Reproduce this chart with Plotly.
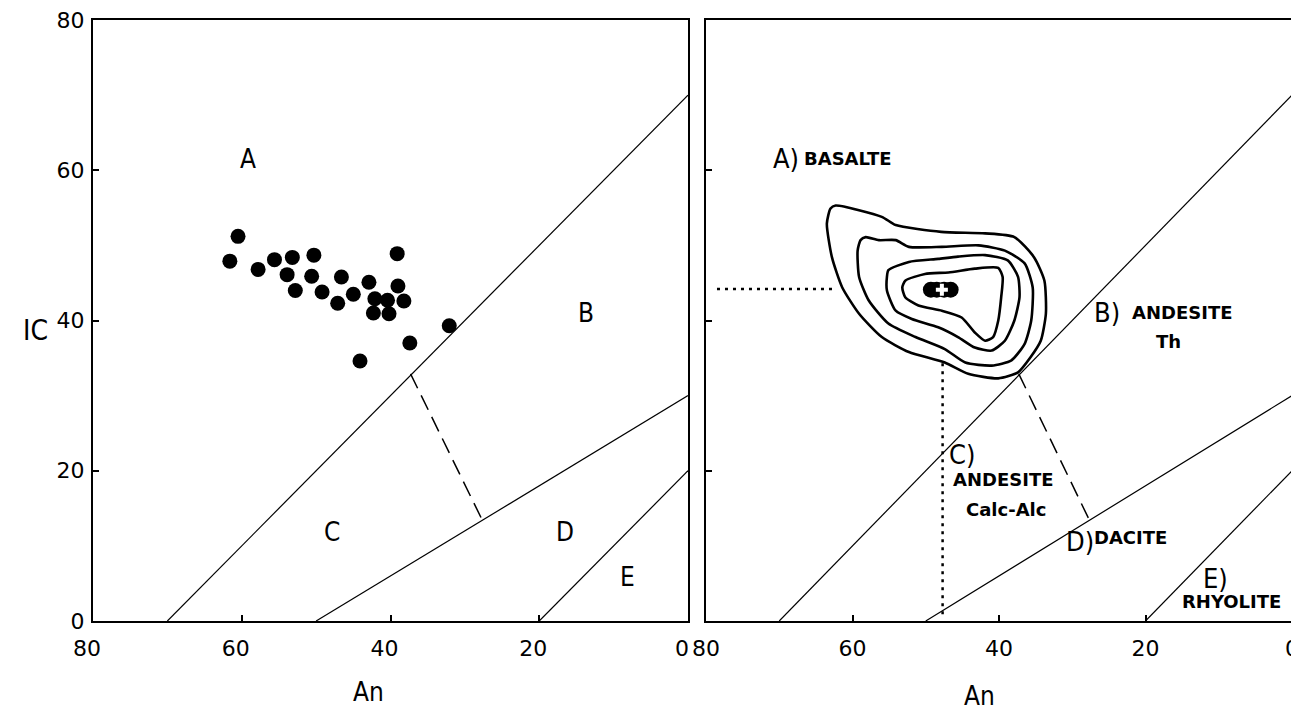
import plotly.graph_objects as go

# ---------------- data ----------------
# Left panel: sample points (An, IC)
pts_an = [60.5, 61.6, 57.8, 55.6, 53.2, 50.3, 53.9, 50.6, 52.8, 49.2, 46.6, 47.1,
          45.0, 42.9, 42.1, 42.3, 40.4, 40.2, 39.1, 39.0, 38.2, 44.1, 37.4, 32.1]
pts_ic = [51.2, 47.9, 46.8, 48.1, 48.4, 48.7, 46.1, 45.9, 44.0, 43.8, 45.8, 42.3,
          43.5, 45.1, 42.9, 41.0, 42.7, 40.9, 48.9, 44.6, 42.6, 34.6, 37.0, 39.3]

# Field boundaries (An, IC end points)
b1_an, b1_ic = [70, 0], [0, 70]
b2_an, b2_ic = [50, 0], [0, 30]
b3_an, b3_ic = [20, 0], [0, 20]
dash_an, dash_ic = [37.3, 27.6], [32.9, 13.3]

# Right panel: density contours (An, IC)
c1_an = [62.3, 56.0, 54.1, 47.9, 41.9, 37.9, 35.2, 33.8, 33.6, 34.3, 35.7, 37.4, 40.1,
         44.2, 47.4, 52.3, 56.0, 59.1, 61.4, 62.8, 63.5, 63.0, 62.3]
c1_ic = [55.3, 53.8, 52.7, 51.8, 51.6, 51.1, 48.4, 45.3, 40.9, 37.3, 35.1, 33.1, 32.3,
         32.9, 34.4, 35.8, 37.8, 40.9, 44.4, 48.4, 52.9, 54.9, 55.3]
c2_an = [58.2, 56.4, 54.1, 52.3, 47.8, 42.8, 39.2, 36.5, 35.4, 35.6, 36.5, 38.3, 41.0,
         44.6, 47.4, 51.4, 55.1, 57.8, 59.1, 59.3, 58.9, 58.2]
c2_ic = [51.1, 50.7, 50.7, 49.8, 49.8, 50.0, 49.3, 47.6, 44.4, 40.0, 36.9, 34.7, 34.0,
         34.4, 36.2, 37.8, 39.6, 42.7, 45.8, 49.3, 50.7, 51.1]
c3_an = [55.1, 52.3, 48.3, 45.6, 41.9, 38.8, 37.4, 37.2, 37.9, 39.2, 41.0, 43.3, 45.6,
         48.3, 51.9, 54.1, 55.3, 55.3, 55.1]
c3_ic = [46.7, 47.8, 48.2, 48.5, 48.7, 48.0, 45.8, 43.1, 40.0, 37.3, 36.0, 36.4, 37.8,
         39.1, 40.2, 41.3, 44.0, 45.8, 46.7]
c4_an = [52.8, 50.1, 46.9, 43.3, 40.1, 39.5, 39.7, 40.1, 40.8, 41.9, 43.3, 45.1, 47.8,
         51.0, 52.8, 53.2, 52.8]
c4_ic = [45.3, 46.2, 46.4, 46.9, 47.0, 45.8, 43.1, 40.0, 37.8, 37.3, 38.4, 40.4, 41.3,
         42.0, 43.1, 44.4, 45.3]
core_an = [49.3, 48.5, 47.5, 46.6]
core_ic = [44.1, 44.1, 44.1, 44.1]
mode_an, mode_ic = [47.8], [44.1]
hdot_an, hdot_ic = [78.5, 62.2], [44.2, 44.2]
vdot_an, vdot_ic = [47.7, 47.7], [34.3, 0.3]

# Labels
left_labels = ["A", "B", "C", "D", "E"]
left_lab_an = [59.2, 13.7, 47.9, 16.6, 8.1]
left_lab_ic = [61.5, 41.0, 11.9, 11.9, 5.9]
right_letters = ["A)", "B)", "C)", "D)", "E)"]
right_let_an = [69.1, 25.3, 45.1, 28.9, 10.5]
right_let_ic = [61.6, 41.0, 22.1, 10.6, 5.7]
right_names = ["BASALTE", "ANDESITE", "Th", "ANDESITE", "Calc-Alc", "DACITE", "RHYOLITE"]
right_name_an = [60.6, 15.0, 16.9, 39.5, 39.0, 22.1, 8.2]
right_name_ic = [61.5, 41.0, 37.2, 18.8, 14.8, 11.1, 2.6]

tick_vals = [80, 60, 40, 20, 0]
tick_text = ["80", "60", "40", "20", "0"]

# ---------------- figure ----------------
NARROW = "Liberation Sans Narrow, DejaVu Sans Condensed, sans-serif"
BOLD = "DejaVu Sans, sans-serif"
OFF = 8                      # default page margin of the html body
W, H = 1299 - OFF, 724 - OFF
fig = go.Figure()

def line(xs, ys, ax, width=1.2, dash="solid", color="black"):
    fig.add_trace(go.Scatter(x=xs, y=ys, mode="lines", xaxis=ax[0], yaxis=ax[1],
                             line=dict(color=color, width=width, dash=dash),
                             showlegend=False, hoverinfo="skip"))

for ax in (("x", "y"), ("x2", "y2")):
    line(b1_an, b1_ic, ax)
    line(b2_an, b2_ic, ax)
    line(b3_an, b3_ic, ax)
    line(dash_an, dash_ic, ax, width=1.5, dash="16px,8px")

fig.add_trace(go.Scatter(x=pts_an, y=pts_ic, mode="markers", xaxis="x", yaxis="y",
                         marker=dict(size=15, color="black"), showlegend=False))

R = ("x2", "y2")
for xs, ys in ((c1_an, c1_ic), (c2_an, c2_ic), (c3_an, c3_ic), (c4_an, c4_ic)):
    fig.add_trace(go.Scatter(x=xs, y=ys, mode="lines", xaxis="x2", yaxis="y2",
                             line=dict(color="black", width=2.6, shape="spline", smoothing=0.6),
                             showlegend=False, hoverinfo="skip"))
line(hdot_an, hdot_ic, R, width=2.5, dash="3px,5px")
line(vdot_an, vdot_ic, R, width=2.5, dash="3px,5px")
fig.add_trace(go.Scatter(x=core_an, y=core_ic, mode="markers", xaxis="x2", yaxis="y2",
                         marker=dict(size=16, color="black"), showlegend=False))
fig.add_trace(go.Scatter(x=mode_an, y=mode_ic, mode="markers", xaxis="x2", yaxis="y2",
                         marker=dict(size=10, color="white", symbol="cross",
                                     line=dict(width=0)), showlegend=False))

ann = []
C = dict(showarrow=False, xanchor="center", yanchor="middle")
for t, a, i in zip(left_labels, left_lab_an, left_lab_ic):
    ann.append(dict(text=t, x=a, y=i, xref="x", yref="y",
                    font=dict(family=NARROW, size=26, color="black"), **C))
for t, a, i in zip(right_letters, right_let_an, right_let_ic):
    ann.append(dict(text=t, x=a, y=i, xref="x2", yref="y2",
                    font=dict(family=NARROW, size=27, color="black"), **C))
for t, a, i in zip(right_names, right_name_an, right_name_ic):
    ann.append(dict(text="<b>" + t + "</b>", x=a, y=i, xref="x2", yref="y2",
                    font=dict(family=BOLD, size=18, color="black"), **C))

def px(x, y):  # page pixel -> paper fraction
    return (x - OFF) / W, 1 - (y - OFF) / H

for t, (x, y), s in (("IC", (36, 330), 28), ("An", (368, 692), 26), ("An", (980, 696), 26)):
    fx, fy = px(x, y)
    ann.append(dict(text=t, x=fx, y=fy, xref="paper", yref="paper",
                    font=dict(family=NARROW, size=s, color="black"), **C))

axis_common = dict(showline=True, linecolor="black", linewidth=2, mirror=True,
                   ticks="inside", ticklen=6, tickwidth=2, tickcolor="black",
                   showgrid=False, zeroline=False, automargin=False,
                   ticklabeloverflow="allow",
                   tickfont=dict(family="DejaVu Sans, sans-serif", size=22, color="black"))
y0, y1 = px(0, 621)[1], px(0, 20)[1]
ydom = [y0, y1]
fig.update_layout(
    template="none",
    width=W, height=H, margin=dict(l=0, r=0, t=0, b=0, pad=0, autoexpand=False),
    paper_bgcolor="white", plot_bgcolor="white", showlegend=False,
    xaxis=dict(domain=[px(93, 0)[0], px(688, 0)[0]], range=[80, 0], anchor="y",
               tickvals=tick_vals, ticktext=tick_text, ticklabelstandoff=7,
               ticklabelshift=6, **axis_common),
    yaxis=dict(domain=ydom, range=[0, 80], anchor="x",
               tickvals=tick_vals, ticktext=tick_text, ticklabelstandoff=2, **axis_common),
    xaxis2=dict(domain=[px(706, 0)[0], px(1292, 0)[0]], range=[80, 0], anchor="y2",
                tickvals=tick_vals, ticktext=tick_text, ticklabelstandoff=7,
                ticklabelshift=0, **axis_common),
    yaxis2=dict(domain=ydom, range=[0, 80], anchor="x2",
                tickvals=tick_vals, showticklabels=False, **axis_common),
    annotations=ann,
)
fig.write_html("out.html")
